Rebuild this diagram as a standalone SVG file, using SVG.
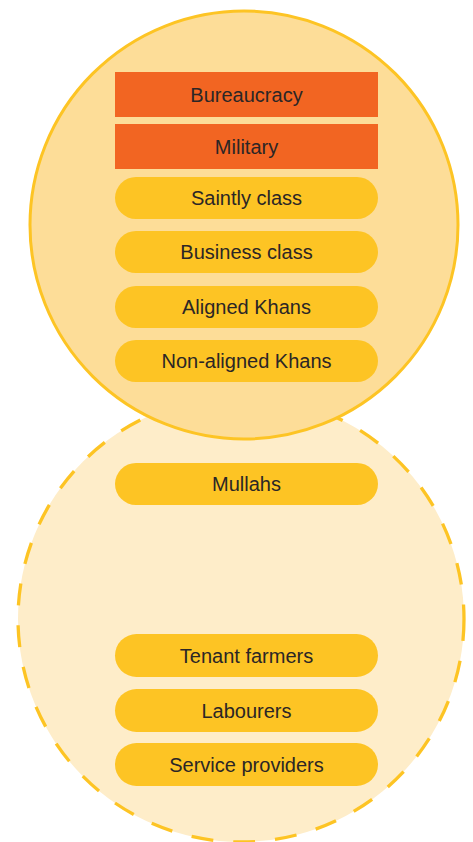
<svg xmlns="http://www.w3.org/2000/svg" width="473" height="842" viewBox="0 0 473 842">
<style>
.t{font-family:"Liberation Sans",Arial,sans-serif;font-size:20px;fill:#2b2626;text-anchor:middle}
.o{fill:#f26522}
.p{fill:#fdc424}
</style>
<rect width="473" height="842" fill="#fff"/>
<g id="outer">
<circle cx="241" cy="619" r="223" fill="#feedc9" stroke="#fdc424" stroke-width="3.3" stroke-dasharray="22 20"/>
</g>
<g id="inner">
<circle cx="244" cy="225" r="214" fill="#fddd98" stroke="#fdc424" stroke-width="3"/>
</g>
<g id="connectors"></g>
<g id="bureaucracy"><rect class="o" x="115" y="72" width="263" height="45"/><text class="t" x="246.5" y="101.5">Bureaucracy</text></g>
<g id="military"><rect class="o" x="115" y="124" width="263" height="45"/><text class="t" x="246.5" y="153.5">Military</text></g>
<g id="saintly"><rect class="p" x="115" y="177" width="263" height="42" rx="21"/><text class="t" x="246.5" y="205">Saintly class</text></g>
<g id="business"><rect class="p" x="115" y="231" width="263" height="42" rx="21"/><text class="t" x="246.5" y="259">Business class</text></g>
<g id="aligned"><rect class="p" x="115" y="286" width="263" height="42" rx="21"/><text class="t" x="246.5" y="314">Aligned Khans</text></g>
<g id="nonaligned"><rect class="p" x="115" y="340" width="263" height="42" rx="21"/><text class="t" x="246.5" y="368">Non-aligned Khans</text></g>
<g id="mullahs"><rect class="p" x="115" y="463" width="263" height="42" rx="21"/><text class="t" x="246.5" y="491">Mullahs</text></g>
<g id="tenant"><rect class="p" x="115" y="634" width="263" height="43" rx="21.5"/><text class="t" x="246.5" y="662.5">Tenant farmers</text></g>
<g id="labourers"><rect class="p" x="115" y="689" width="263" height="43" rx="21.5"/><text class="t" x="246.5" y="717.5">Labourers</text></g>
<g id="service"><rect class="p" x="115" y="743" width="263" height="43" rx="21.5"/><text class="t" x="246.5" y="771.5">Service providers</text></g>
</svg>
